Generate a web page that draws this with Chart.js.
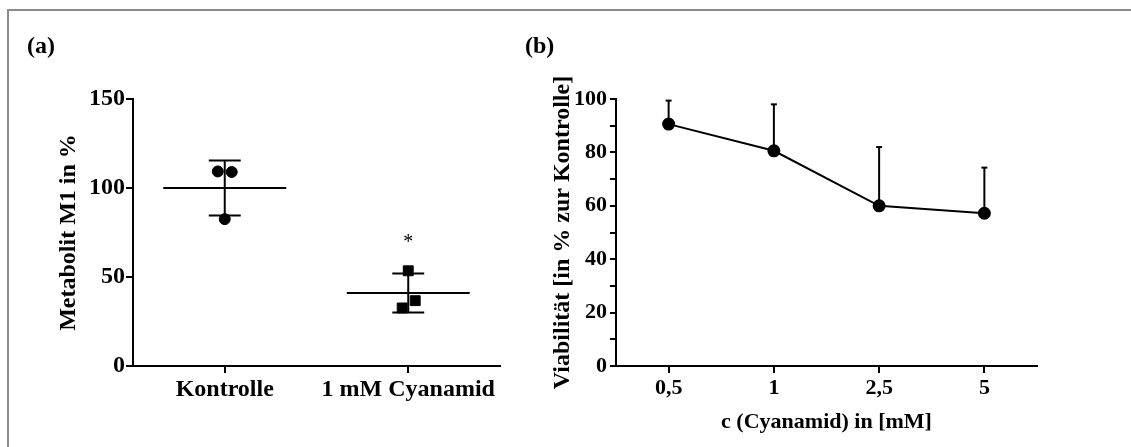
<!DOCTYPE html>
<html>
<head>
<meta charset="utf-8">
<script src="https://cdn.jsdelivr.net/npm/chart.js@4/dist/chart.umd.min.js"></script>
<style>
  body { margin: 0; background: #fff; width: 1131px; height: 447px; overflow: hidden; position: relative; }
  .frame { position: absolute; left: 7px; top: 9px; width: 1200px; height: 600px; border-left: 2px solid #8a8a8a; border-top: 2px solid #8a8a8a; }
  .panel { position: absolute; top: 0; }
  .tag { position: absolute; top: 33px; font: bold 24px/24px "Liberation Serif", "Times New Roman", serif; color: #000; }
</style>
</head>
<body>
<div class="frame"></div>
<canvas id="chartA" class="panel" style="left:0" width="520" height="447"></canvas>
<canvas id="chartB" class="panel" style="left:520px" width="611" height="447"></canvas>
<div class="tag" style="left:27px">(a)</div>
<div class="tag" style="left:525px">(b)</div>
<script>
// panel (a): individual values per group
const groups = ['Kontrolle', '1 mM Cyanamid'];
const kontrolleX = [-0.038, 0.038, 0];
const kontrolleY = [109.3, 109.0, 82.5];
const cyanamidX = [1, 1.038, 0.967];
const cyanamidY = [53.5, 36.7, 32.6];
const groupMean = [100, 41];
const groupSD = [15.4, 11];
const starValue = 71;

// panel (b): viability vs. concentration
const concLabels = ['0,5', '1', '2,5', '5'];
const viability = [90.6, 80.6, 60.0, 57.2];
const viabilitySD = [8.8, 17.4, 22.0, 17.1];

const serif = '"Liberation Serif", "Times New Roman", serif';
Chart.defaults.font.family = serif;
Chart.defaults.color = '#000';

function pairs(xs, ys) {
  return xs.map(function (x, i) { return { x: x, y: ys[i] }; });
}

function line(ctx, x1, y1, x2, y2) {
  ctx.beginPath();
  ctx.moveTo(x1, y1);
  ctx.lineTo(x2, y2);
  ctx.stroke();
}

const meanSdPlugin = {
  id: 'meanSd',
  beforeDatasetsDraw(chart) {
    const ctx = chart.ctx, xs = chart.scales.x, ys = chart.scales.y;
    ctx.save();
    ctx.strokeStyle = '#000';
    ctx.lineWidth = 2;
    groups.forEach(function (g, i) {
      const ym = ys.getPixelForValue(groupMean[i]);
      const yt = ys.getPixelForValue(groupMean[i] + groupSD[i]);
      const yb = ys.getPixelForValue(groupMean[i] - groupSD[i]);
      line(ctx, xs.getPixelForValue(i - 0.335), ym, xs.getPixelForValue(i + 0.335), ym);
      line(ctx, xs.getPixelForValue(i), yt, xs.getPixelForValue(i), yb);
      line(ctx, xs.getPixelForValue(i - 0.087), yt, xs.getPixelForValue(i + 0.087), yt);
      line(ctx, xs.getPixelForValue(i - 0.087), yb, xs.getPixelForValue(i + 0.087), yb);
    });
    ctx.fillStyle = '#000';
    ctx.font = '20px ' + serif;
    ctx.textAlign = 'center';
    ctx.textBaseline = 'middle';
    ctx.fillText('*', xs.getPixelForValue(1), ys.getPixelForValue(starValue) + 3);
    ctx.restore();
  }
};

const upperBarPlugin = {
  id: 'upperBar',
  beforeDatasetsDraw(chart) {
    const ctx = chart.ctx, xs = chart.scales.x, ys = chart.scales.y;
    ctx.save();
    ctx.strokeStyle = '#000';
    ctx.lineWidth = 2;
    viability.forEach(function (v, i) {
      const x = xs.getPixelForValue(i);
      const top = ys.getPixelForValue(v + viabilitySD[i]);
      line(ctx, x, ys.getPixelForValue(v), x, top);
      line(ctx, x - 3, top, x + 3, top);
    });
    ctx.restore();
  }
};

const axisGrid = { drawOnChartArea: false, color: '#000', lineWidth: 2, tickLength: 7 };
const axisBorder = { display: true, color: '#000', width: 2 };

new Chart(document.getElementById('chartA'), {
  type: 'scatter',
  data: {
    datasets: [
      { data: pairs(kontrolleX, kontrolleY), pointStyle: 'circle', pointRadius: 5.5, backgroundColor: '#000', borderColor: '#000' },
      { data: pairs(cyanamidX, cyanamidY), pointStyle: 'rect', pointRadius: 7, backgroundColor: '#000', borderColor: '#000' }
    ]
  },
  options: {
    responsive: false,
    devicePixelRatio: 1,
    animation: false,
    layout: { padding: { left: 0, top: 99, right: 20, bottom: 0 } },
    plugins: { legend: { display: false }, tooltip: { enabled: false } },
    scales: {
      x: {
        type: 'linear', min: -0.5, max: 1.5,
        grid: axisGrid, border: axisBorder,
        afterBuildTicks: function (s) { s.ticks = [{ value: 0 }, { value: 1 }]; },
        afterFit: function (s) { s.height = 81; },
        ticks: {
          font: { size: 24, weight: 'bold' }, padding: 2, maxRotation: 0,
          callback: function (v) { return groups[v]; }
        }
      },
      y: {
        min: 0, max: 150,
        grid: axisGrid, border: axisBorder,
        afterFit: function (s) { s.width = 133; },
        ticks: { stepSize: 50, font: { size: 24, weight: 'bold' }, padding: 1 },
        title: { display: true, text: 'Metabolit M1 in %', font: { size: 24, weight: 'bold' }, padding: { top: 54 } }
      }
    }
  },
  plugins: [meanSdPlugin]
});

new Chart(document.getElementById('chartB'), {
  type: 'line',
  data: {
    labels: concLabels,
    datasets: [{
      data: viability, borderColor: '#000', backgroundColor: '#000', borderWidth: 2,
      pointRadius: 5.5, pointBackgroundColor: '#000', tension: 0
    }]
  },
  options: {
    responsive: false,
    devicePixelRatio: 1,
    animation: false,
    layout: { padding: { left: 0, top: 99, right: 94, bottom: 0 } },
    plugins: { legend: { display: false }, tooltip: { enabled: false } },
    scales: {
      x: {
        offset: true,
        grid: Object.assign({}, axisGrid, { offset: false }), border: axisBorder,
        afterFit: function (s) { s.height = 81; },
        ticks: { font: { size: 22, weight: 'bold' }, padding: 2, maxRotation: 0 },
        title: { display: true, text: 'c (Cyanamid) in [mM]', font: { size: 22, weight: 'bold' }, padding: { bottom: 11 } }
      },
      y: {
        min: 0, max: 100,
        grid: Object.assign({}, axisGrid, { tickLength: 6 }), border: axisBorder,
        afterFit: function (s) { s.width = 96; },
        ticks: {
          stepSize: 10, autoSkip: false, font: { size: 22, weight: 'bold' }, padding: 3,
          callback: function (v) { return v % 20 === 0 ? v : ''; }
        },
        title: { display: true, text: 'Viabilität [in % zur Kontrolle]', font: { size: 24, weight: 'bold' }, padding: { top: 28 } }
      }
    }
  },
  plugins: [upperBarPlugin]
});
</script>
</body>
</html>
